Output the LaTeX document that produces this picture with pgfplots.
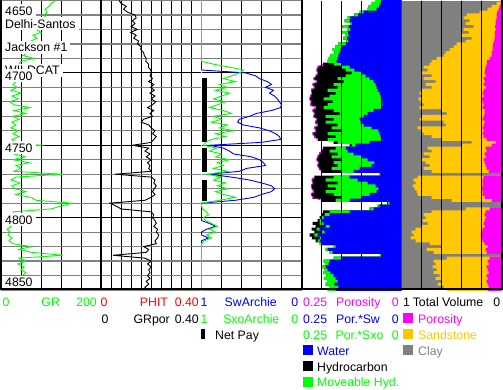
\documentclass[border=0pt]{standalone}
\usepackage{fontspec}
\setmainfont{Liberation Sans}
\usepackage{pgfplots}
\usepackage{pgfplotstable}
\pgfplotsset{compat=1.18}
\definecolor{lgreen}{RGB}{0,255,0}
\definecolor{sand}{RGB}{255,200,0}
\definecolor{clay}{RGB}{128,128,128}
\definecolor{pink}{RGB}{255,0,255}
\definecolor{wblue}{RGB}{0,0,255}
\definecolor{lred}{RGB}{255,0,0}

\pgfplotstableread{
d gr gp sw sxo
4650 110 0.072 1 1
4652 100 0.080 1 1
4654 96 0.100 1 1
4656 88 0.090 1 1
4658 92 0.105 1 1
4660 86 0.135 1 1
4662 90 0.140 1 1
4664 84 0.125 1 1
4666 80 0.135 1 1
4668 76 0.120 1 1
4670 70 0.145 1 1
4672 80 0.118 1 1
4674 64 0.140 1 1
4676 72 0.130 1 1
4678 60 0.150 1 1
4680 66 0.145 1 1
4682 58 0.160 1 1
4684 62 0.158 1 1
4686 54 0.170 1 1
4688 44 0.172 1 1
4690 66 0.180 1 1
4692 40 0.178 1 1
4694 36 0.190 1 0.88
4696 30 0.188 1 0.72
4698 34 0.198 1 0.58
4700 28 0.200 0.56 0.62
4702 34 0.195 0.46 0.70
4704 26 0.205 0.42 0.78
4706 30 0.190 0.34 0.66
4708 24 0.210 0.30 0.82
4710 32 0.198 0.36 0.74
4712 20 0.212 0.28 0.86
4714 40 0.195 0.32 0.72
4716 22 0.215 0.27 0.80
4718 34 0.200 0.24 0.88
4720 18 0.218 0.22 0.76
4722 26 0.205 0.20 0.84
4724 58 0.185 0.21 0.92
4726 26 0.210 0.30 0.78
4728 50 0.195 0.45 0.70
4730 24 0.205 0.52 0.88
4732 36 0.170 0.62 0.80
4734 22 0.160 0.64 0.90
4736 30 0.190 0.58 0.74
4738 20 0.200 0.42 0.82
4740 34 0.215 0.32 0.68
4742 24 0.205 0.26 0.86
4744 36 0.220 0.22 0.76
4746 22 0.210 0.21 0.90
4748 30 0.200 0.40 0.96
4750 80 0.125 0.92 0.98
4752 28 0.190 0.78 0.85
4754 44 0.175 0.72 0.92
4756 26 0.195 0.68 0.80
4758 48 0.180 0.50 0.86
4760 24 0.200 0.42 0.72
4762 56 0.185 0.38 0.84
4764 30 0.195 0.36 0.78
4766 40 0.190 0.55 0.88
4768 26 0.200 0.62 0.74
4770 122 0.056 0.92 0.95
4772 30 0.200 0.70 0.80
4774 20 0.215 0.52 0.88
4776 38 0.210 0.40 0.76
4778 22 0.220 0.30 0.84
4780 28 0.212 0.27 0.74
4782 50 0.205 0.30 0.86
4784 30 0.215 0.40 0.78
4786 60 0.200 0.48 0.66
4788 70 0.175 0.66 0.82
4790 142 0.036 1 1
4792 120 0.060 1 1
4794 100 0.080 1 0.99
4796 24 0.200 1 0.95
4798 26 0.210 1 0.93
4800 22 0.205 1 0.98
4802 18 0.215 1 0.96
4804 14 0.220 0.92 0.90
4806 20 0.210 0.86 0.84
4808 12 0.225 0.95 0.92
4810 18 0.220 1 0.86
4812 14 0.230 1 0.95
4814 22 0.225 0.93 0.90
4816 16 0.215 1 0.97
4818 24 0.220 1 1
4820 60 0.170 1 1
4822 36 0.190 1 1
4824 62 0.180 1 1
4826 124 0.048 1 1
4828 36 0.175 1 1
4830 50 0.200 1 1
4832 34 0.185 1 1
4834 46 0.200 1 1
4836 40 0.190 1 1
4838 50 0.195 1 1
4840 42 0.185 1 1
4842 52 0.195 1 1
4844 46 0.180 1 1
4846 56 0.190 1 1
4848 52 0.175 1 1
4850 58 0.185 1 1
}\curves

\pgfplotstableread{
d P G B C M
4650 0.066 0.066 0.051 0.00 0.00
4652 0.075 0.075 0.052 0.05 0.01
4654 0.082 0.082 0.056 0.10 0.02
4656 0.085 0.085 0.062 0.14 0.03
4658 0.105 0.105 0.095 0.22 0.045
4660 0.118 0.118 0.108 0.35 0.05
4662 0.135 0.135 0.128 0.38 0.05
4664 0.142 0.142 0.130 0.32 0.06
4666 0.128 0.128 0.124 0.36 0.06
4668 0.148 0.148 0.132 0.28 0.065
4670 0.136 0.136 0.128 0.38 0.06
4672 0.150 0.150 0.134 0.33 0.07
4674 0.140 0.140 0.132 0.40 0.065
4676 0.146 0.146 0.136 0.30 0.07
4678 0.138 0.138 0.133 0.36 0.075
4680 0.158 0.158 0.140 0.45 0.085
4682 0.166 0.166 0.150 0.48 0.09
4684 0.172 0.172 0.152 0.52 0.09
4686 0.168 0.168 0.155 0.56 0.10
4688 0.178 0.178 0.158 0.58 0.10
4690 0.182 0.182 0.160 0.65 0.12
4692 0.186 0.186 0.162 0.70 0.145
4694 0.196 0.170 0.150 0.72 0.15
4696 0.210 0.150 0.130 0.78 0.16
4698 0.212 0.140 0.118 0.74 0.165
4700 0.210 0.125 0.100 0.80 0.17
4702 0.214 0.140 0.090 0.70 0.16
4704 0.220 0.160 0.080 0.78 0.18
4706 0.212 0.145 0.070 0.66 0.17
4708 0.222 0.170 0.065 0.76 0.18
4710 0.218 0.160 0.062 0.70 0.16
4712 0.226 0.185 0.060 0.80 0.18
4714 0.224 0.165 0.055 0.82 0.19
4716 0.228 0.180 0.052 0.80 0.18
4718 0.230 0.195 0.050 0.83 0.20
4720 0.226 0.172 0.048 0.81 0.19
4722 0.228 0.185 0.048 0.78 0.18
4724 0.215 0.195 0.050 0.82 0.19
4726 0.222 0.170 0.070 0.60 0.17
4728 0.218 0.155 0.085 0.55 0.17
4730 0.220 0.190 0.095 0.80 0.18
4732 0.212 0.170 0.105 0.82 0.19
4734 0.216 0.190 0.102 0.58 0.17
4736 0.210 0.160 0.095 0.56 0.18
4738 0.218 0.175 0.075 0.84 0.19
4740 0.214 0.150 0.058 0.80 0.18
4742 0.222 0.185 0.055 0.78 0.19
4744 0.218 0.165 0.052 0.70 0.18
4746 0.210 0.185 0.050 0.60 0.15
4748 0.170 0.160 0.080 0.30 0.06
4750 0.130 0.125 0.115 0.40 0.10
4752 0.196 0.165 0.140 0.74 0.16
4754 0.200 0.180 0.135 0.70 0.15
4756 0.206 0.160 0.120 0.78 0.17
4758 0.210 0.175 0.100 0.72 0.16
4760 0.212 0.150 0.085 0.80 0.18
4762 0.208 0.170 0.068 0.76 0.17
4764 0.210 0.160 0.075 0.72 0.16
4766 0.206 0.175 0.105 0.78 0.15
4768 0.200 0.150 0.120 0.70 0.13
4770 0.055 0.052 0.050 0.00 0.00
4772 0.218 0.170 0.130 0.84 0.18
4774 0.224 0.190 0.110 0.88 0.19
4776 0.222 0.160 0.085 0.86 0.19
4778 0.226 0.185 0.065 0.89 0.19
4780 0.224 0.165 0.058 0.87 0.20
4782 0.220 0.190 0.062 0.85 0.19
4784 0.226 0.170 0.080 0.84 0.19
4786 0.222 0.150 0.100 0.70 0.17
4788 0.200 0.165 0.130 0.50 0.10
4790 0.036 0.034 0.030 0.00 0.00
4792 0.060 0.058 0.055 0.00 0.00
4794 0.080 0.078 0.070 0.36 0.12
4796 0.196 0.180 0.130 0.70 0.16
4798 0.200 0.192 0.180 0.78 0.17
4800 0.205 0.200 0.195 0.76 0.16
4802 0.210 0.205 0.200 0.79 0.17
4804 0.222 0.205 0.195 0.74 0.18
4806 0.215 0.190 0.180 0.80 0.17
4808 0.225 0.212 0.205 0.86 0.19
4810 0.218 0.200 0.192 0.90 0.20
4812 0.230 0.218 0.210 0.88 0.21
4814 0.224 0.205 0.200 0.91 0.20
4816 0.215 0.210 0.205 0.86 0.19
4818 0.205 0.205 0.200 0.72 0.17
4820 0.170 0.170 0.165 0.60 0.14
4822 0.190 0.190 0.185 0.75 0.16
4824 0.180 0.180 0.172 0.68 0.15
4826 0.054 0.054 0.050 0.00 0.00
4828 0.170 0.170 0.150 0.55 0.12
4830 0.195 0.195 0.180 0.68 0.14
4832 0.190 0.190 0.182 0.66 0.13
4834 0.200 0.200 0.190 0.69 0.15
4836 0.192 0.192 0.185 0.65 0.14
4838 0.196 0.196 0.178 0.68 0.13
4840 0.188 0.188 0.170 0.62 0.15
4842 0.194 0.194 0.165 0.66 0.14
4844 0.185 0.185 0.160 0.60 0.15
4846 0.190 0.190 0.168 0.64 0.14
4848 0.180 0.180 0.158 0.58 0.13
4850 0.186 0.186 0.165 0.55 0.14
}\vol

\pgfplotsset{
  trk/.style={scale only axis, width=100pt, height=289.5pt, anchor=north west,
    ymin=4650, ymax=4850, y dir=reverse,
    axis line style={draw=none},
    major tick length=0pt, minor tick length=0pt,
    xticklabels={}, yticklabels={},
    xmajorgrids=true,
    major grid style={black, line width=1pt},
    minor grid style={clay, line width=1.2pt}},
  hgrid/.style={ytick={4700,4750,4800},
    minor ytick={4650,4660,4670,4680,4690,4710,4720,4730,4740,4760,4770,4780,4790,4810,4820,4830,4840,4850},
    ymajorgrids=true, yminorgrids=true},
  vb/.style={xbar, bar width=2.1, bar shift=0pt, draw=none},
}
\tikzset{lg/.style={inner sep=0pt, font=\fontsize{12.3}{14}\selectfont},
  dl/.style={fill=white, inner xsep=3pt, inner ysep=2pt, anchor=base west, font=\fontsize{12.3}{14}\selectfont}}

\begin{document}
\begin{tikzpicture}
\path[use as bounding box] (0pt,0pt) rectangle (503pt,-389pt);

% Track 1: GR
\begin{axis}[trk, hgrid, at={(1pt,-0.5pt)}, xmin=0, xmax=200, xtick={40,80,120,160}]
\addplot[lgreen, line width=0.9pt] table[x=gr,y=d]{\curves};
\end{axis}

% Track 2: GRpor
\begin{axis}[trk, hgrid, at={(101pt,-0.5pt)}, width=100.5pt, xmin=0, xmax=0.4,
  xtick={0.04,0.08,0.12,0.16,0.2,0.24,0.28,0.32,0.36}]
\addplot[black, line width=0.9pt] table[x=gp,y=d]{\curves};
\end{axis}

% Track 3: Sw, Sxo, Net pay
\begin{axis}[trk, hgrid, at={(201.5pt,-0.5pt)}, xmin=0, xmax=1, x dir=reverse, clip=false,
  xtick={0.2,0.4,0.6,0.8}]
\addplot[black, line width=5pt, line cap=butt] coordinates {(0.975,4703.5) (0.975,4748)};
\addplot[black, line width=5pt, line cap=butt] coordinates {(0.975,4752) (0.975,4768.5)};
\addplot[black, line width=5pt, line cap=butt] coordinates {(0.975,4774) (0.975,4788.5)};
\addplot[wblue, line width=0.9pt] table[x=sw,y=d]{\curves};
\addplot[lgreen, line width=0.9pt] table[x=sxo,y=d]{\curves};
\end{axis}

% Track 4: porosity partition
\begin{axis}[trk, at={(301.5pt,-0.5pt)}, xmin=0, xmax=0.25, x dir=reverse, ytick=\empty,
  xtick={0.05,0.1,0.15,0.2}, axis on top]
\addplot[vb, fill=black] table[x=P,y=d]{\vol};
\addplot[vb, fill=lgreen] table[x=G,y=d]{\vol};
\addplot[vb, fill=wblue] table[x=B,y=d]{\vol};
\addplot[pink, line width=0.7pt, restrict y to domain=4694:4747] table[x=P,y=d]{\vol};
\addplot[pink, line width=0.7pt, restrict y to domain=4752:4768] table[x=P,y=d]{\vol};
\addplot[pink, line width=0.7pt, restrict y to domain=4772:4788] table[x=P,y=d]{\vol};
\end{axis}

% Track 5: total volume
\begin{axis}[trk, at={(401.5pt,-0.5pt)}, xmin=0, xmax=1, x dir=reverse, ytick=\empty,
  xtick={0.2,0.4,0.6,0.8}, axis on top, axis background/.style={fill=clay}]
\addplot[vb, fill=sand] table[x=C,y=d]{\vol};
\addplot[vb, fill=pink] table[x=M,y=d]{\vol};
\end{axis}

\begin{scope}[x=1pt,y=-1pt]
% depth labels and well header
\node[dl] at (2,15) {4650};
\node[dl] at (2,28.3) {Delhi-Santos};
\node[dl] at (2,51.7) {Jackson \#1};
\node[dl] at (2,74.5) {WILDCAT};
\node[dl] at (2,80) {4700};
\node[dl] at (2,152) {4750};
\node[dl] at (2,224) {4800};
\node[dl] at (2,286.7) {4850};

% borders
\draw[line width=2pt] (1,0) -- (1,290);
\draw[line width=2pt] (101,0) -- (101,290);
\draw[line width=2pt] (301.5,0) -- (301.5,290);
\draw[line width=2pt] (502,0) -- (502,290);
\draw[line width=2pt] (0,289) -- (503,289);

% legend row 1
\node[lg, text=lgreen, anchor=base west] at (2.5,306.7) {0};
\node[lg, text=lgreen, anchor=base] at (50.7,306.7) {GR};
\node[lg, text=lgreen, anchor=base east] at (97,306.7) {200};
\node[lg, text=lred, anchor=base west] at (100.3,306.7) {0};
\node[lg, text=lred, anchor=base] at (154,306.7) {PHIT};
\node[lg, text=lred, anchor=base east] at (199,306.7) {0.40};
\node[lg, text=wblue, anchor=base west] at (200.5,306.7) {1};
\node[lg, text=wblue, anchor=base] at (250.7,306.7) {SwArchie};
\node[lg, text=wblue, anchor=base east] at (298.5,306.7) {0};
\node[lg, text=pink, anchor=base west] at (303,306.7) {0.25};
\node[lg, text=pink, anchor=base] at (358.3,306.7) {Porosity};
\node[lg, text=pink, anchor=base east] at (399,306.7) {0};
\node[lg, anchor=base west] at (403,306.7) {1};
\node[lg, anchor=base] at (448,306.7) {Total Volume};
\node[lg, anchor=base east] at (500.5,306.7) {0};
% row 2
\node[lg, anchor=base west] at (101.5,323.3) {0};
\node[lg, anchor=base] at (151.7,323.3) {GRpor};
\node[lg, anchor=base east] at (199,323.3) {0.40};
\node[lg, text=lgreen, anchor=base west] at (200.5,323.3) {1};
\node[lg, text=lgreen, anchor=base] at (251.3,323.3) {SxoArchie};
\node[lg, text=lgreen, anchor=base east] at (298.5,323.3) {0};
\node[lg, text=wblue, anchor=base west] at (303,323.3) {0.25};
\node[lg, text=wblue, anchor=base] at (358,323.3) {Por.*Sw};
\node[lg, text=wblue, anchor=base east] at (399,323.3) {0};
\fill[pink] (403,313.3) rectangle (413,323.3);
\node[lg, text=pink, anchor=base west] at (418,323.3) {Porosity};
% row 3
\fill[black] (201,329.3) rectangle (205,339.3);
\node[lg, anchor=base west] at (215,339.3) {Net Pay};
\node[lg, text=lgreen, anchor=base west] at (303,339.3) {0.25};
\node[lg, text=lgreen, anchor=base] at (359.5,339.3) {Por.*Sxo};
\node[lg, text=lgreen, anchor=base east] at (399,339.3) {0};
\fill[sand] (403,329.3) rectangle (413,339.3);
\node[lg, text=sand, anchor=base west] at (418,339.3) {Sandstone};
% row 4
\fill[wblue] (303,345) rectangle (313,355);
\node[lg, text=wblue, anchor=base west] at (317,355) {Water};
\fill[clay] (403,345) rectangle (413,355);
\node[lg, text=clay, anchor=base west] at (418,355) {Clay};
% row 5
\fill[black] (303,361) rectangle (313,371);
\node[lg, anchor=base west] at (317,371) {Hydrocarbon};
% row 6
\fill[lgreen] (303,376.7) rectangle (313,386.7);
\node[lg, text=lgreen, anchor=base west] at (317,386.7) {Moveable Hyd.};
\end{scope}
\end{tikzpicture}
\end{document}
